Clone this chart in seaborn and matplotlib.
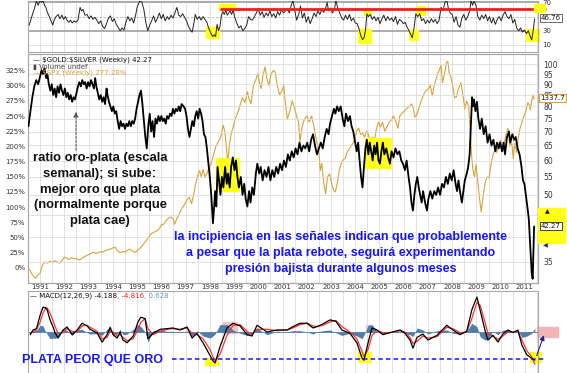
import numpy as np
import pandas as pd
import matplotlib
matplotlib.use("Agg")
import matplotlib.pyplot as plt
import matplotlib.ticker as mticker
from matplotlib.patches import Rectangle, FancyArrowPatch
import seaborn as sns

# ---------------- data (x = decimal year) ----------------
ratio_t = [1990.52, 1990.60, 1990.68, 1990.76, 1990.84, 1990.92, 1991.00, 1991.06, 1991.12, 1991.18,
           1991.25, 1991.30, 1991.36, 1991.42, 1991.48, 1991.54, 1991.60, 1991.66, 1991.72, 1991.78,
           1991.84, 1991.90, 1991.96, 1992.02, 1992.08, 1992.14, 1992.20, 1992.26, 1992.32, 1992.38,
           1992.44, 1992.50, 1992.56, 1992.62, 1992.68, 1992.74, 1992.80, 1992.86, 1992.92, 1992.98,
           1993.04, 1993.10, 1993.16, 1993.22, 1993.27, 1993.32, 1993.38, 1993.44, 1993.50, 1993.56,
           1993.62, 1993.68, 1993.74, 1993.78, 1993.84, 1993.90, 1993.96, 1994.02, 1994.08, 1994.14,
           1994.20, 1994.26, 1994.32, 1994.38, 1994.44, 1994.50, 1994.56, 1994.62, 1994.68, 1994.74,
           1994.80, 1994.86, 1994.92, 1994.98, 1995.04, 1995.10, 1995.16, 1995.22, 1995.28, 1995.34,
           1995.40, 1995.46, 1995.52, 1995.58, 1995.64, 1995.70, 1995.76, 1995.82, 1995.88, 1995.94,
           1996.00, 1996.06, 1996.12, 1996.18, 1996.24, 1996.30, 1996.36, 1996.42, 1996.48, 1996.54,
           1996.60, 1996.66, 1996.72, 1996.78, 1996.84, 1996.92, 1996.98, 1997.04, 1997.10, 1997.16,
           1997.22, 1997.28, 1997.34, 1997.40, 1997.46, 1997.52, 1997.58, 1997.64, 1997.70, 1997.76,
           1997.82, 1997.88, 1997.93, 1998.00, 1998.06, 1998.13, 1998.18, 1998.22, 1998.27, 1998.32,
           1998.38, 1998.44, 1998.50, 1998.56, 1998.63, 1998.70, 1998.75, 1998.82, 1998.88, 1998.95,
           1999.02, 1999.08, 1999.14, 1999.20, 1999.28, 1999.35, 1999.42, 1999.48, 1999.55, 1999.62,
           1999.68, 1999.75, 1999.82, 1999.90, 1999.96, 2000.04, 2000.10, 2000.18, 2000.26, 2000.34,
           2000.42, 2000.50, 2000.58, 2000.66, 2000.74, 2000.82, 2000.90, 2000.98, 2001.06, 2001.14,
           2001.22, 2001.30, 2001.38, 2001.46, 2001.54, 2001.62, 2001.70, 2001.78, 2001.86, 2001.94,
           2002.02, 2002.10, 2002.18, 2002.26, 2002.34, 2002.42, 2002.50, 2002.58, 2002.66, 2002.74,
           2002.82, 2002.90, 2002.96, 2003.04, 2003.12, 2003.18, 2003.25, 2003.32, 2003.40, 2003.48,
           2003.55, 2003.62, 2003.70, 2003.78, 2003.85, 2003.92, 2004.00, 2004.06, 2004.12, 2004.18,
           2004.24, 2004.30, 2004.36, 2004.42, 2004.48, 2004.54, 2004.60, 2004.66, 2004.72, 2004.78,
           2004.84, 2004.90, 2004.96, 2005.02, 2005.08, 2005.14, 2005.20, 2005.28, 2005.36, 2005.43,
           2005.50, 2005.58, 2005.66, 2005.74, 2005.82, 2005.90, 2005.97, 2006.05, 2006.12, 2006.20,
           2006.26, 2006.32, 2006.38, 2006.44, 2006.50, 2006.56, 2006.62, 2006.68, 2006.74, 2006.80,
           2006.88, 2006.96, 2007.02, 2007.10, 2007.18, 2007.26, 2007.34, 2007.42, 2007.50, 2007.58,
           2007.66, 2007.74, 2007.82, 2007.90, 2007.98, 2008.06, 2008.14, 2008.20, 2008.26, 2008.32,
           2008.40, 2008.46, 2008.52, 2008.60, 2008.66, 2008.72, 2008.78, 2008.82, 2008.86, 2008.90,
           2008.96, 2009.02, 2009.08, 2009.15, 2009.22, 2009.30, 2009.38, 2009.46, 2009.54, 2009.62,
           2009.70, 2009.78, 2009.85, 2009.92, 2009.98, 2010.06, 2010.12, 2010.18, 2010.26, 2010.34,
           2010.40, 2010.48, 2010.56, 2010.62, 2010.70, 2010.78, 2010.86, 2010.92, 2010.98, 2011.04,
           2011.10, 2011.16, 2011.22, 2011.28, 2011.32, 2011.35, 2011.38]
ratio_v = [72, 78, 84, 89, 92, 90, 94, 97, 95, 98,
           93, 95, 90, 87, 90, 85, 88, 84, 89, 86,
           90, 87, 85, 88, 84, 86, 83, 85, 82, 84,
           83, 86, 89, 91, 89, 92, 90, 91, 88, 91,
           89, 92, 90, 88, 93, 89, 86, 83, 85, 82,
           84, 81, 88, 85, 82, 80, 78, 80, 77, 78,
           74, 71, 74, 72, 73, 71, 73, 72, 74, 72,
           74, 73, 75, 79, 82, 85, 87, 81, 74, 68,
           64, 72, 77, 70, 74, 68, 75, 73, 76, 74,
           76, 74, 75, 73, 76, 75, 77, 76, 79, 77,
           79, 78, 80, 78, 81, 80, 79, 76, 71, 68,
           71, 74, 72, 76, 78, 75, 79, 77, 74, 69,
           68, 64, 60, 55, 50, 43, 47, 51, 47, 58,
           54, 50, 55, 52, 58, 53, 56, 52, 58, 61,
           57, 60, 55, 52, 55, 50, 53, 49, 47, 51,
           48, 52, 50, 56, 59, 56, 58, 54, 57, 55,
           58, 54, 57, 55, 58, 56, 59, 57, 60, 58,
           62, 60, 63, 61, 64, 62, 66, 63, 65, 64,
           66, 63, 67, 69, 65, 62, 64, 66, 64, 68,
           71, 69, 73, 76, 79, 77, 80, 78, 80, 75,
           72, 77, 74, 76, 72, 70, 66, 63, 66, 60,
           55, 52, 58, 64, 67, 62, 66, 63, 60, 65,
           62, 66, 60, 59, 63, 66, 62, 64, 61, 59,
           63, 61, 64, 62, 63, 60, 59, 57, 60, 55,
           52, 48, 46, 50, 53, 55, 52, 50, 48, 51,
           48, 46, 49, 51, 49, 51, 50, 52, 50, 53,
           52, 55, 53, 56, 54, 57, 53, 51, 54, 51,
           48, 51, 54, 56, 58, 62, 75, 84, 80, 83,
           78, 82, 75, 71, 75, 69, 72, 66, 69, 65,
           67, 63, 66, 64, 66, 63, 66, 62, 68, 70,
           66, 69, 67, 68, 64, 62, 58, 54, 53, 50,
           47, 44, 38, 33, 32, 37, 42.27]

spx_t = [1990.50, 1990.58, 1990.66, 1990.75, 1990.82, 1990.90, 1991.00, 1991.10, 1991.20, 1991.30,
         1991.40, 1991.50, 1991.60, 1991.70, 1991.80, 1991.90, 1992.00, 1992.10, 1992.20, 1992.30,
         1992.40, 1992.50, 1992.60, 1992.70, 1992.80, 1992.90, 1993.00, 1993.10, 1993.20, 1993.30,
         1993.40, 1993.50, 1993.60, 1993.70, 1993.80, 1993.90, 1994.00, 1994.10, 1994.20, 1994.30,
         1994.40, 1994.50, 1994.60, 1994.70, 1994.80, 1994.90, 1995.00, 1995.10, 1995.20, 1995.30,
         1995.40, 1995.50, 1995.60, 1995.70, 1995.80, 1995.90, 1996.00, 1996.10, 1996.20, 1996.30,
         1996.40, 1996.50, 1996.55, 1996.65, 1996.75, 1996.85, 1996.95, 1997.05, 1997.15, 1997.25,
         1997.32, 1997.40, 1997.50, 1997.58, 1997.65, 1997.72, 1997.80, 1997.88, 1997.96, 1998.05,
         1998.15, 1998.25, 1998.35, 1998.45, 1998.55, 1998.62, 1998.68, 1998.74, 1998.80, 1998.88,
         1998.96, 1999.05, 1999.15, 1999.25, 1999.35, 1999.45, 1999.55, 1999.62, 1999.70, 1999.80,
         1999.90, 1999.98, 2000.05, 2000.12, 2000.20, 2000.28, 2000.36, 2000.44, 2000.52, 2000.62,
         2000.70, 2000.78, 2000.88, 2000.96, 2001.05, 2001.12, 2001.20, 2001.30, 2001.40, 2001.50,
         2001.58, 2001.66, 2001.72, 2001.80, 2001.90, 2002.00, 2002.10, 2002.20, 2002.30, 2002.40,
         2002.50, 2002.56, 2002.62, 2002.70, 2002.78, 2002.86, 2002.94, 2003.02, 2003.10, 2003.18,
         2003.26, 2003.34, 2003.42, 2003.50, 2003.58, 2003.66, 2003.74, 2003.82, 2003.90, 2003.98,
         2004.06, 2004.14, 2004.22, 2004.30, 2004.38, 2004.46, 2004.54, 2004.62, 2004.70, 2004.80,
         2004.88, 2004.96, 2005.04, 2005.12, 2005.22, 2005.30, 2005.40, 2005.50, 2005.58, 2005.68,
         2005.76, 2005.84, 2005.94, 2006.02, 2006.12, 2006.22, 2006.32, 2006.40, 2006.46, 2006.54,
         2006.62, 2006.72, 2006.82, 2006.92, 2007.02, 2007.10, 2007.18, 2007.26, 2007.36, 2007.46,
         2007.54, 2007.60, 2007.68, 2007.76, 2007.82, 2007.88, 2007.94, 2008.02, 2008.10, 2008.18,
         2008.26, 2008.36, 2008.44, 2008.52, 2008.60, 2008.68, 2008.74, 2008.80, 2008.86, 2008.92,
         2008.98, 2009.06, 2009.14, 2009.20, 2009.28, 2009.36, 2009.44, 2009.52, 2009.60, 2009.68,
         2009.76, 2009.84, 2009.92, 2010.00, 2010.06, 2010.14, 2010.22, 2010.30, 2010.38, 2010.46,
         2010.52, 2010.58, 2010.66, 2010.72, 2010.80, 2010.88, 2010.96, 2011.04, 2011.12, 2011.18,
         2011.22, 2011.28, 2011.34, 2011.38]
spx_pct = [0, -4, -10, -15, -17, -12, -8, 5, 10, 8,
           11, 9, 12, 10, 8, 12, 18, 16, 14, 17,
           15, 16, 13, 15, 18, 20, 22, 24, 26, 24,
           25, 27, 26, 29, 30, 31, 33, 34, 28, 25,
           27, 26, 29, 31, 28, 26, 28, 32, 36, 41,
           46, 52, 57, 59, 61, 64, 71, 72, 78, 82,
           84, 80, 72, 82, 90, 98, 104, 112, 116, 106,
           118, 135, 152, 160, 150, 162, 150, 155, 165, 170,
           186, 200, 208, 215, 235, 225, 200, 172, 200, 220,
           232, 245, 255, 268, 280, 272, 290, 278, 270, 300,
           310, 320, 305, 295, 318, 331, 310, 300, 318, 325,
           322, 300, 285, 290, 300, 270, 245, 258, 275, 262,
           250, 240, 208, 230, 245, 250, 240, 250, 232, 210,
           190, 160, 172, 140, 122, 150, 155, 140, 128, 125,
           140, 160, 172, 178, 180, 190, 195, 200, 205, 212,
           225, 230, 220, 222, 215, 225, 220, 207, 215, 212,
           230, 240, 232, 240, 225, 232, 240, 244, 250, 240,
           230, 250, 255, 258, 262, 265, 270, 262, 248, 252,
           262, 275, 285, 292, 295, 300, 283, 300, 315, 325,
           333, 305, 318, 338, 340, 320, 315, 300, 280, 282,
           295, 305, 285, 262, 275, 265, 230, 185, 160, 150,
           170, 140, 110, 92, 120, 140, 150, 148, 170, 185,
           195, 190, 205, 210, 195, 205, 220, 230, 200, 205,
           180, 205, 190, 212, 230, 240, 250, 258, 272, 268,
           260, 275, 285, 277.28]

rsi_t = [1990.55, 1990.62, 1990.70, 1990.78, 1990.85, 1990.92, 1991.00, 1991.06, 1991.12, 1991.18,
         1991.24, 1991.30, 1991.38, 1991.45, 1991.52, 1991.58, 1991.66, 1991.74, 1991.82, 1991.90,
         1991.97, 1992.04, 1992.11, 1992.18, 1992.25, 1992.32, 1992.40, 1992.48, 1992.56, 1992.65,
         1992.71, 1992.77, 1992.85, 1992.94, 1993.02, 1993.10, 1993.18, 1993.26, 1993.34, 1993.42,
         1993.50, 1993.58, 1993.66, 1993.74, 1993.82, 1993.90, 1993.98, 1994.06, 1994.14, 1994.22,
         1994.30, 1994.38, 1994.46, 1994.54, 1994.62, 1994.70, 1994.78, 1994.86, 1994.94, 1995.00,
         1995.06, 1995.12, 1995.20, 1995.28, 1995.36, 1995.44, 1995.52, 1995.60, 1995.68, 1995.76,
         1995.84, 1995.92, 1996.00, 1996.08, 1996.16, 1996.24, 1996.32, 1996.40, 1996.48, 1996.56,
         1996.64, 1996.72, 1996.80, 1996.88, 1996.96, 1997.04, 1997.12, 1997.20, 1997.27, 1997.34,
         1997.40, 1997.48, 1997.56, 1997.64, 1997.72, 1997.80, 1997.88, 1997.94, 1998.00, 1998.06,
         1998.12, 1998.18, 1998.24, 1998.30, 1998.36, 1998.42, 1998.48, 1998.54, 1998.60, 1998.66,
         1998.72, 1998.78, 1998.84, 1998.90, 1998.96, 1999.04, 1999.12, 1999.20, 1999.28, 1999.36,
         1999.44, 1999.52, 1999.60, 1999.68, 1999.76, 1999.84, 1999.92, 2000.00, 2000.08, 2000.16,
         2000.24, 2000.32, 2000.40, 2000.48, 2000.56, 2000.64, 2000.72, 2000.80, 2000.88, 2000.96,
         2001.04, 2001.12, 2001.20, 2001.28, 2001.36, 2001.43, 2001.50, 2001.58, 2001.66, 2001.74,
         2001.82, 2001.90, 2001.98, 2002.06, 2002.14, 2002.22, 2002.30, 2002.38, 2002.46, 2002.54,
         2002.62, 2002.70, 2002.78, 2002.84, 2002.90, 2002.98, 2003.06, 2003.14, 2003.20, 2003.28,
         2003.36, 2003.44, 2003.52, 2003.60, 2003.68, 2003.76, 2003.84, 2003.92, 2004.00, 2004.08,
         2004.16, 2004.24, 2004.30, 2004.36, 2004.42, 2004.48, 2004.54, 2004.62, 2004.70, 2004.78,
         2004.86, 2004.94, 2005.02, 2005.10, 2005.18, 2005.26, 2005.34, 2005.42, 2005.50, 2005.58,
         2005.66, 2005.74, 2005.82, 2005.90, 2005.98, 2006.06, 2006.14, 2006.22, 2006.30, 2006.35,
         2006.42, 2006.50, 2006.58, 2006.66, 2006.74, 2006.82, 2006.90, 2006.98, 2007.06, 2007.14,
         2007.22, 2007.30, 2007.38, 2007.46, 2007.54, 2007.62, 2007.70, 2007.78, 2007.84, 2007.92,
         2008.00, 2008.08, 2008.16, 2008.24, 2008.32, 2008.40, 2008.48, 2008.56, 2008.64, 2008.72,
         2008.78, 2008.84, 2008.90, 2008.98, 2009.06, 2009.14, 2009.22, 2009.30, 2009.38, 2009.46,
         2009.54, 2009.62, 2009.70, 2009.78, 2009.86, 2009.94, 2010.02, 2010.10, 2010.18, 2010.26,
         2010.34, 2010.42, 2010.50, 2010.58, 2010.66, 2010.74, 2010.82, 2010.90, 2010.98, 2011.06,
         2011.14, 2011.22, 2011.28, 2011.34, 2011.40]
rsi_v = [38, 46, 55, 63, 72, 66, 73, 70, 73, 66,
         63, 56, 50, 44, 38, 45, 50, 53, 47, 52,
         46, 50, 45, 42, 45, 41, 44, 42, 45, 63,
         58, 60, 52, 53, 47, 51, 46, 49, 45, 40,
         44, 36, 33, 40, 48, 51, 43, 47, 39, 35,
         30, 34, 31, 42, 50, 44, 48, 41, 52, 63,
         68, 73, 70, 60, 42, 30, 38, 44, 51, 42,
         48, 55, 47, 53, 44, 50, 46, 52, 48, 55,
         63, 52, 50, 54, 49, 44, 36, 31, 28, 40,
         53, 46, 50, 45, 50, 46, 42, 35, 30, 25,
         22, 24, 22, 39, 30, 36, 52, 57, 53, 59,
         52, 55, 58, 53, 59, 48, 40, 34, 37, 30,
         33, 38, 50, 46, 45, 50, 55, 61, 52, 57,
         49, 55, 51, 58, 50, 54, 48, 57, 52, 60,
         55, 58, 61, 55, 66, 73, 60, 45, 52, 65,
         48, 55, 42, 50, 40, 47, 55, 50, 58, 53,
         60, 56, 62, 70, 58, 62, 55, 60, 73, 62,
         55, 48, 45, 52, 46, 53, 44, 48, 41, 40,
         32, 22, 17.5, 20, 30, 54, 50, 53, 46, 50,
         44, 49, 40, 47, 52, 44, 50, 45, 48, 43,
         50, 39, 46, 44, 40, 42, 35, 30, 24, 20,
         32, 54, 50, 54, 44, 47, 40, 45, 41, 47,
         42, 46, 40, 45, 63, 58, 70, 73, 62, 55,
         53, 42, 50, 38, 35, 48, 53, 45, 50, 58,
         73, 66, 72, 66, 50, 45, 52, 47, 53, 44,
         50, 41, 48, 39, 46, 50, 44, 52, 57, 50,
         47, 53, 41, 46, 34, 30, 34, 28, 31, 26,
         30, 22, 17, 30, 46.76]

macd_t = [1990.59, 1990.71, 1990.85, 1991.00, 1991.12, 1991.22, 1991.29, 1991.41, 1991.54, 1991.62,
          1991.74, 1991.95, 1992.11, 1992.32, 1992.53, 1992.73, 1992.94, 1993.06, 1993.35, 1993.56,
          1993.76, 1993.89, 1994.01, 1994.18, 1994.30, 1994.42, 1994.59, 1994.84, 1995.04, 1995.15,
          1995.33, 1995.45, 1995.66, 1995.95, 1996.24, 1996.48, 1996.77, 1997.06, 1997.27, 1997.47,
          1997.72, 1998.01, 1998.13, 1998.22, 1998.42, 1998.71, 1998.96, 1999.25, 1999.54, 1999.74,
          1999.95, 2000.36, 2000.77, 2001.19, 2001.43, 2001.72, 2002.01, 2002.26, 2002.42, 2002.67,
          2002.96, 2003.20, 2003.45, 2003.78, 2004.07, 2004.28, 2004.36, 2004.53, 2004.69, 2004.90,
          2005.14, 2005.43, 2005.85, 2006.05, 2006.26, 2006.38, 2006.55, 2006.79, 2007.00, 2007.37,
          2007.78, 2008.03, 2008.32, 2008.60, 2008.81, 2009.02, 2009.15, 2009.35, 2009.47, 2009.68,
          2009.89, 2010.09, 2010.30, 2010.51, 2010.71, 2010.88, 2011.08, 2011.28, 2011.41]
macd_v = [-0.4, 0.3, 0.5, 2.5, 3.7, 3.6, 3.3, 1.8, 0.7, -0.15,
          -0.9, 0.3, 0.75, -0.4, 0.3, 1.3, 0.9, 0.4, -0.15, -1.5,
          -0.4, 0.7, -0.4, -0.9, 0.0, -1.2, -1.6, -0.6, 1.5, 2.2,
          2.0, -1.0, -0.2, 0.4, 0.5, 0.6, 0.3, 0.75, -0.9, -0.2,
          -1.6, -3.5, -4.3, -4.6, -2.2, 0.6, 1.3, 0.9, -0.4, -0.6,
          1.0, 0.0, 0.3, 0.3, 0.8, 1.3, 1.3, 0.6, 0.8, 1.2,
          1.8, 1.6, 0.3, -0.2, -1.6, -3.9, -4.2, -1.6, 0.6, 0.3,
          -0.4, -0.1, 0.3, -0.2, -1.2, -2.4, -0.8, -0.3, -1.2, -0.5,
          1.0, 0.3, -0.4, 0.1, 3.3, 5.2, 3.3, 0.3, -1.2, -0.5,
          -1.5, -0.3, 0.3, -0.1, 0.3, -2.0, -3.4, -3.9, -4.188]
signal_v = [-0.2, 0.0, 0.3, 1.5, 2.8, 3.5, 3.6, 2.8, 1.6, 0.8,
            -0.2, -0.1, 0.5, 0.1, 0.0, 0.9, 1.0, 0.7, 0.1, -1.0,
            -0.8, 0.1, 0.0, -0.6, -0.4, -0.8, -1.3, -1.0, 0.4, 1.4,
            2.0, 0.5, -0.4, 0.1, 0.4, 0.5, 0.4, 0.6, -0.2, -0.4,
            -1.0, -2.6, -3.7, -4.3, -3.3, -0.5, 1.0, 1.1, 0.1, -0.4,
            0.4, 0.4, 0.2, 0.3, 0.6, 1.1, 1.3, 0.9, 0.8, 1.0,
            1.5, 1.7, 0.8, 0.0, -1.0, -2.9, -3.7, -2.6, -0.5, 0.2,
            -0.1, -0.1, 0.2, 0.0, -0.8, -1.7, -1.4, -0.6, -0.9, -0.7,
            0.7, 0.5, -0.1, 0.0, 2.0, 4.4, 4.0, 1.5, -0.2, -0.6,
            -1.1, -0.6, 0.0, 0.0, 0.1, -1.2, -2.8, -3.7, -4.816]

years = list(range(1991, 2012))
pct_ticks = [0, 25, 50, 75, 100, 125, 150, 175, 200, 225, 250, 275, 300, 325]
ratio_ticks = [35, 40, 45, 50, 55, 60, 65, 70, 75, 80, 85, 90, 95, 100]

ratio_df = pd.DataFrame({"t": ratio_t, "v": ratio_v})
spx_df = pd.DataFrame({"t": spx_t, "pct": spx_pct})
rsi_df = pd.DataFrame({"t": rsi_t, "v": rsi_v})
macd_df = pd.DataFrame({"t": macd_t, "macd": macd_v, "signal": signal_v})
macd_df["hist"] = macd_df["macd"] - macd_df["signal"]

# ---------------- styling ----------------
sns.set_theme(style="white")
plt.rcParams["font.family"] = ["DejaVu Sans"]
W, H = 567, 373
fig = plt.figure(figsize=(W / 100, H / 100), dpi=100)
fig.patch.set_facecolor("white")

def box(x0, y0, x1, y1):
    # panel rectangle from pixel edges (top-left origin)
    return [x0 / W, 1 - y1 / H, (x1 - x0) / W, (y1 - y0) / H]

def fp(x, y):
    return (x / W, 1 - y / H)

XMIN, XMAX = 1990.505, 2011.54
GRID = "#dcdcdc"
TXT = "#333333"
GOLDC = "#d9a236"
BLUE = "#1515ff"
YEL = "#ffff1a"
HIST = "#4f7eaa"
ARIAL = ["Liberation Sans", "DejaVu Sans"]

ax_r = fig.add_axes(box(28, 1, 538, 52))
ax = fig.add_axes(box(28, 54, 538, 283))
ax2 = ax.twinx()
ax_m = fig.add_axes(box(28, 291, 538, 373))

for a in (ax_r, ax, ax2, ax_m):
    a.set_xlim(XMIN, XMAX)
    for s in a.spines.values():
        s.set_color("#a8a8a8")
        s.set_linewidth(0.8)
    a.tick_params(length=0, labelsize=5, colors=TXT, pad=2)

half_years = np.arange(1990.5, 2012, 0.5)

# ---------------- RSI panel ----------------
ax_r.set_ylim(0, 72)
ax_r.set_xticks(half_years)
ax_r.set_xticklabels([])
ax_r.grid(axis="x", color=GRID, lw=0.6)
for lvl in (70, 30):
    ax_r.axhline(lvl, color="#a0a0a0", lw=1.2, zorder=1)
ax_r.axhline(50, color="#b0b0b0", lw=0.6, ls=(0, (3, 2)), zorder=1)
ax_r.axhline(10, color=GRID, lw=0.6, zorder=1)
ax_r.yaxis.tick_right()
ax_r.set_yticks([10, 30, 70])
ax_r.set_yticklabels(["10", "30", "70"])
ax_r.tick_params(axis="y", pad=3)
rsi_boxes = [(1997.85, 1998.38, 20, 35.6), (1998.38, 1999.04, 59, 68), (2004.11, 2004.65, 13, 33),
             (2004.36, 2004.65, 52, 59), (2006.22, 2006.59, 17, 31), (2006.50, 2006.88, 52, 65),
             (2011.04, 2011.58, 15, 33)]
for x0, x1, y0, y1 in rsi_boxes:
    ax_r.add_patch(Rectangle((x0, y0), x1 - x0, y1 - y0, color=YEL, zorder=2, clip_on=False))
sns.lineplot(data=rsi_df, x="t", y="v", ax=ax_r, color="#222222", lw=0.7, estimator=None, sort=False, zorder=3)
ax_r.plot([1998.46, 2011.82], [60.5, 60.5], color="#ff1a1a", lw=2.0, clip_on=False, zorder=4)
ax_r.set_xlabel("")
ax_r.set_ylabel("")
fig.patches.append(Rectangle(fp(534, 12), 11 / W, 8 / H, color=YEL, transform=fig.transFigure, zorder=0))
fig.text(*fp(541, 18), "46.76", fontsize=5, color="#111", ha="left", va="center",
         bbox=dict(boxstyle="square,pad=0.15", fc="white", ec="#555", lw=0.6))

# ---------------- main panel ----------------
ax.set_ylim(-24.7, 352)
ax.set_yticks(pct_ticks)
ax.set_yticklabels([f"{p}%" for p in pct_ticks])
ax.set_xticks(years)
ax.set_xticklabels([str(y) for y in years])
ax.set_xticks(half_years, minor=True)
ax.grid(axis="x", which="both", color=GRID, lw=0.6)
ax.tick_params(axis="x", pad=1)
sns.lineplot(data=spx_df, x="t", y="pct", ax=ax, color=GOLDC, lw=0.8, estimator=None, sort=False, zorder=3)
ax.set_xlabel("")
ax.set_ylabel("")

ax2.set_yscale("log")
ax2.set_ylim(31.3, 105.7)
ax2.yaxis.set_major_locator(mticker.FixedLocator(ratio_ticks))
ax2.yaxis.set_major_formatter(mticker.FormatStrFormatter("%d"))
ax2.yaxis.set_minor_locator(mticker.NullLocator())
ax2.tick_params(axis="y", length=0, labelsize=5.5, colors=TXT, pad=4)
ax2.grid(axis="y", color=GRID, lw=0.6, zorder=0)
for x0, x1, y0, y1 in [(1998.26, 1999.21, 51.0, 60.8), (2004.40, 2005.47, 57.7, 67.6)]:
    ax2.add_patch(Rectangle((x0, y0), x1 - x0, y1 - y0, color=YEL, zorder=1))
sns.lineplot(data=ratio_df, x="t", y="v", ax=ax2, color="black", lw=1.3, estimator=None, sort=False, zorder=3)
ax2.set_xlabel("")
ax2.set_ylabel("")

# legend lines in the main panel
fig.text(*fp(33, 60), "\u2014 $GOLD:$SILVER (Weekly) 42.27", fontsize=5, color="#111", va="center", parse_math=False)
fig.text(*fp(33, 66.5), "\u25ae Volume undef", fontsize=5, color="#444", va="center")
fig.text(*fp(33, 73), "\u2014 $SPX (Weekly) 277.28%", fontsize=5, color=GOLDC, va="center", parse_math=False)

# right side value flags
fig.text(*fp(540, 98), "1337.7", fontsize=5, color="#111", ha="left", va="center", zorder=6,
         bbox=dict(boxstyle="square,pad=0.15", fc="white", ec=GOLDC, lw=0.8))
fig.patches.append(Rectangle(fp(538, 243), 27 / W, 35 / H, color=YEL, transform=fig.transFigure, zorder=0))
fig.text(*fp(541, 226), "42.27", fontsize=5, color="#111", ha="left", va="center", zorder=6,
         bbox=dict(boxstyle="square,pad=0.15", fc="white", ec="#222", lw=0.6))
fig.text(*fp(547, 212), "\u25b2", fontsize=4.5, color="#111", ha="center", va="center")
fig.text(*fp(545, 246), "\u25c0", fontsize=4.5, color="#22229a", ha="center", va="center")

# annotations
fig.text(*fp(100, 152), "ratio oro-plata (escala\nsemanal); si sube:\nmejor oro que plata\n(normalmente porque\nplata cae)",
         fontsize=9.4, fontweight="bold", family=ARIAL, color="#111",
         ha="center", va="top", linespacing=1.42)
fig.text(*fp(341, 253), "la incipiencia en las señales indican que probablemente\n"
         "a pesar que la plata rebote, seguirá experimentando\npresión bajista durante algunos meses",
         fontsize=9, fontweight="bold", family=ARIAL, color=BLUE,
         ha="center", va="center", multialignment="center", linespacing=1.45)
fig.add_artist(FancyArrowPatch(fp(76, 153), fp(76, 109), transform=fig.transFigure,
               arrowstyle="-|>", mutation_scale=7, color="#555555", lw=0.8, linestyle=(0, (2, 1.5))))

# ---------------- MACD panel ----------------
ax_m.set_ylim(-6.1, 6.1)
ax_m.set_xticks(half_years)
ax_m.set_xticklabels([])
ax_m.set_yticks([])
ax_m.grid(axis="x", color=GRID, lw=0.6)
ax_m.fill_between(macd_df["t"], macd_df["hist"], 0, color=HIST, lw=0, zorder=2)
ax_m.axhline(0, color=HIST, lw=0.6, zorder=2)
for x0, x1, y0, y1 in [(1998.55, 1999.12, -0.15, 1.5), (2004.45, 2004.65, 0.3, 1.0)]:
    ax_m.add_patch(Rectangle((x0, y0), x1 - x0, y1 - y0, color="#f6c4c4", zorder=1))
for x0, x1, y0, y1 in [(1997.80, 1998.34, -4.9, -3.9), (2004.11, 2004.65, -4.5, -3.0), (2011.20, 2011.66, -4.5, -3.0)]:
    ax_m.add_patch(Rectangle((x0, y0), x1 - x0, y1 - y0, color=YEL, zorder=1, clip_on=False))
sns.lineplot(data=macd_df, x="t", y="signal", ax=ax_m, color="#ff3030", lw=0.9, estimator=None, sort=False, zorder=3)
sns.lineplot(data=macd_df, x="t", y="macd", ax=ax_m, color="black", lw=0.9, estimator=None, sort=False, zorder=4)
ax_m.set_xlabel("")
ax_m.set_ylabel("")
ax_m.plot([1996.44, 2011.82], [-4.0, -4.0], color=BLUE, lw=1.1, ls=(0, (3, 2)), clip_on=False, zorder=5)
ax_m.add_patch(Rectangle((2011.49, -0.75), 0.87, 1.5, color="#f4b4b6", clip_on=False, zorder=1))
ax_m.annotate("", xy=(2011.82, -0.1), xytext=(2011.45, -3.9), annotation_clip=False,
              arrowprops=dict(arrowstyle="-|>", color="#20208a", lw=0.8, mutation_scale=7))

# MACD legend: three coloured pieces chained one after the other
t1 = fig.text(*fp(30, 296), "\u2014 MACD(12,26,9) -4.188", fontsize=5, color="#111", va="center")
t2 = ax_m.annotate(", -4.816", xy=(1, 0.5), xycoords=t1, fontsize=5, color="#ff2020", va="center", ha="left")
ax_m.annotate(", 0.628", xy=(1, 0.5), xycoords=t2, fontsize=5, color="#5a9ac8", va="center", ha="left")

fig.text(*fp(22, 360), "PLATA PEOR QUE ORO", fontsize=9, fontweight="bold",
         family=ARIAL, color=BLUE, ha="left", va="center")

fig.savefig("out.png", dpi=100)
